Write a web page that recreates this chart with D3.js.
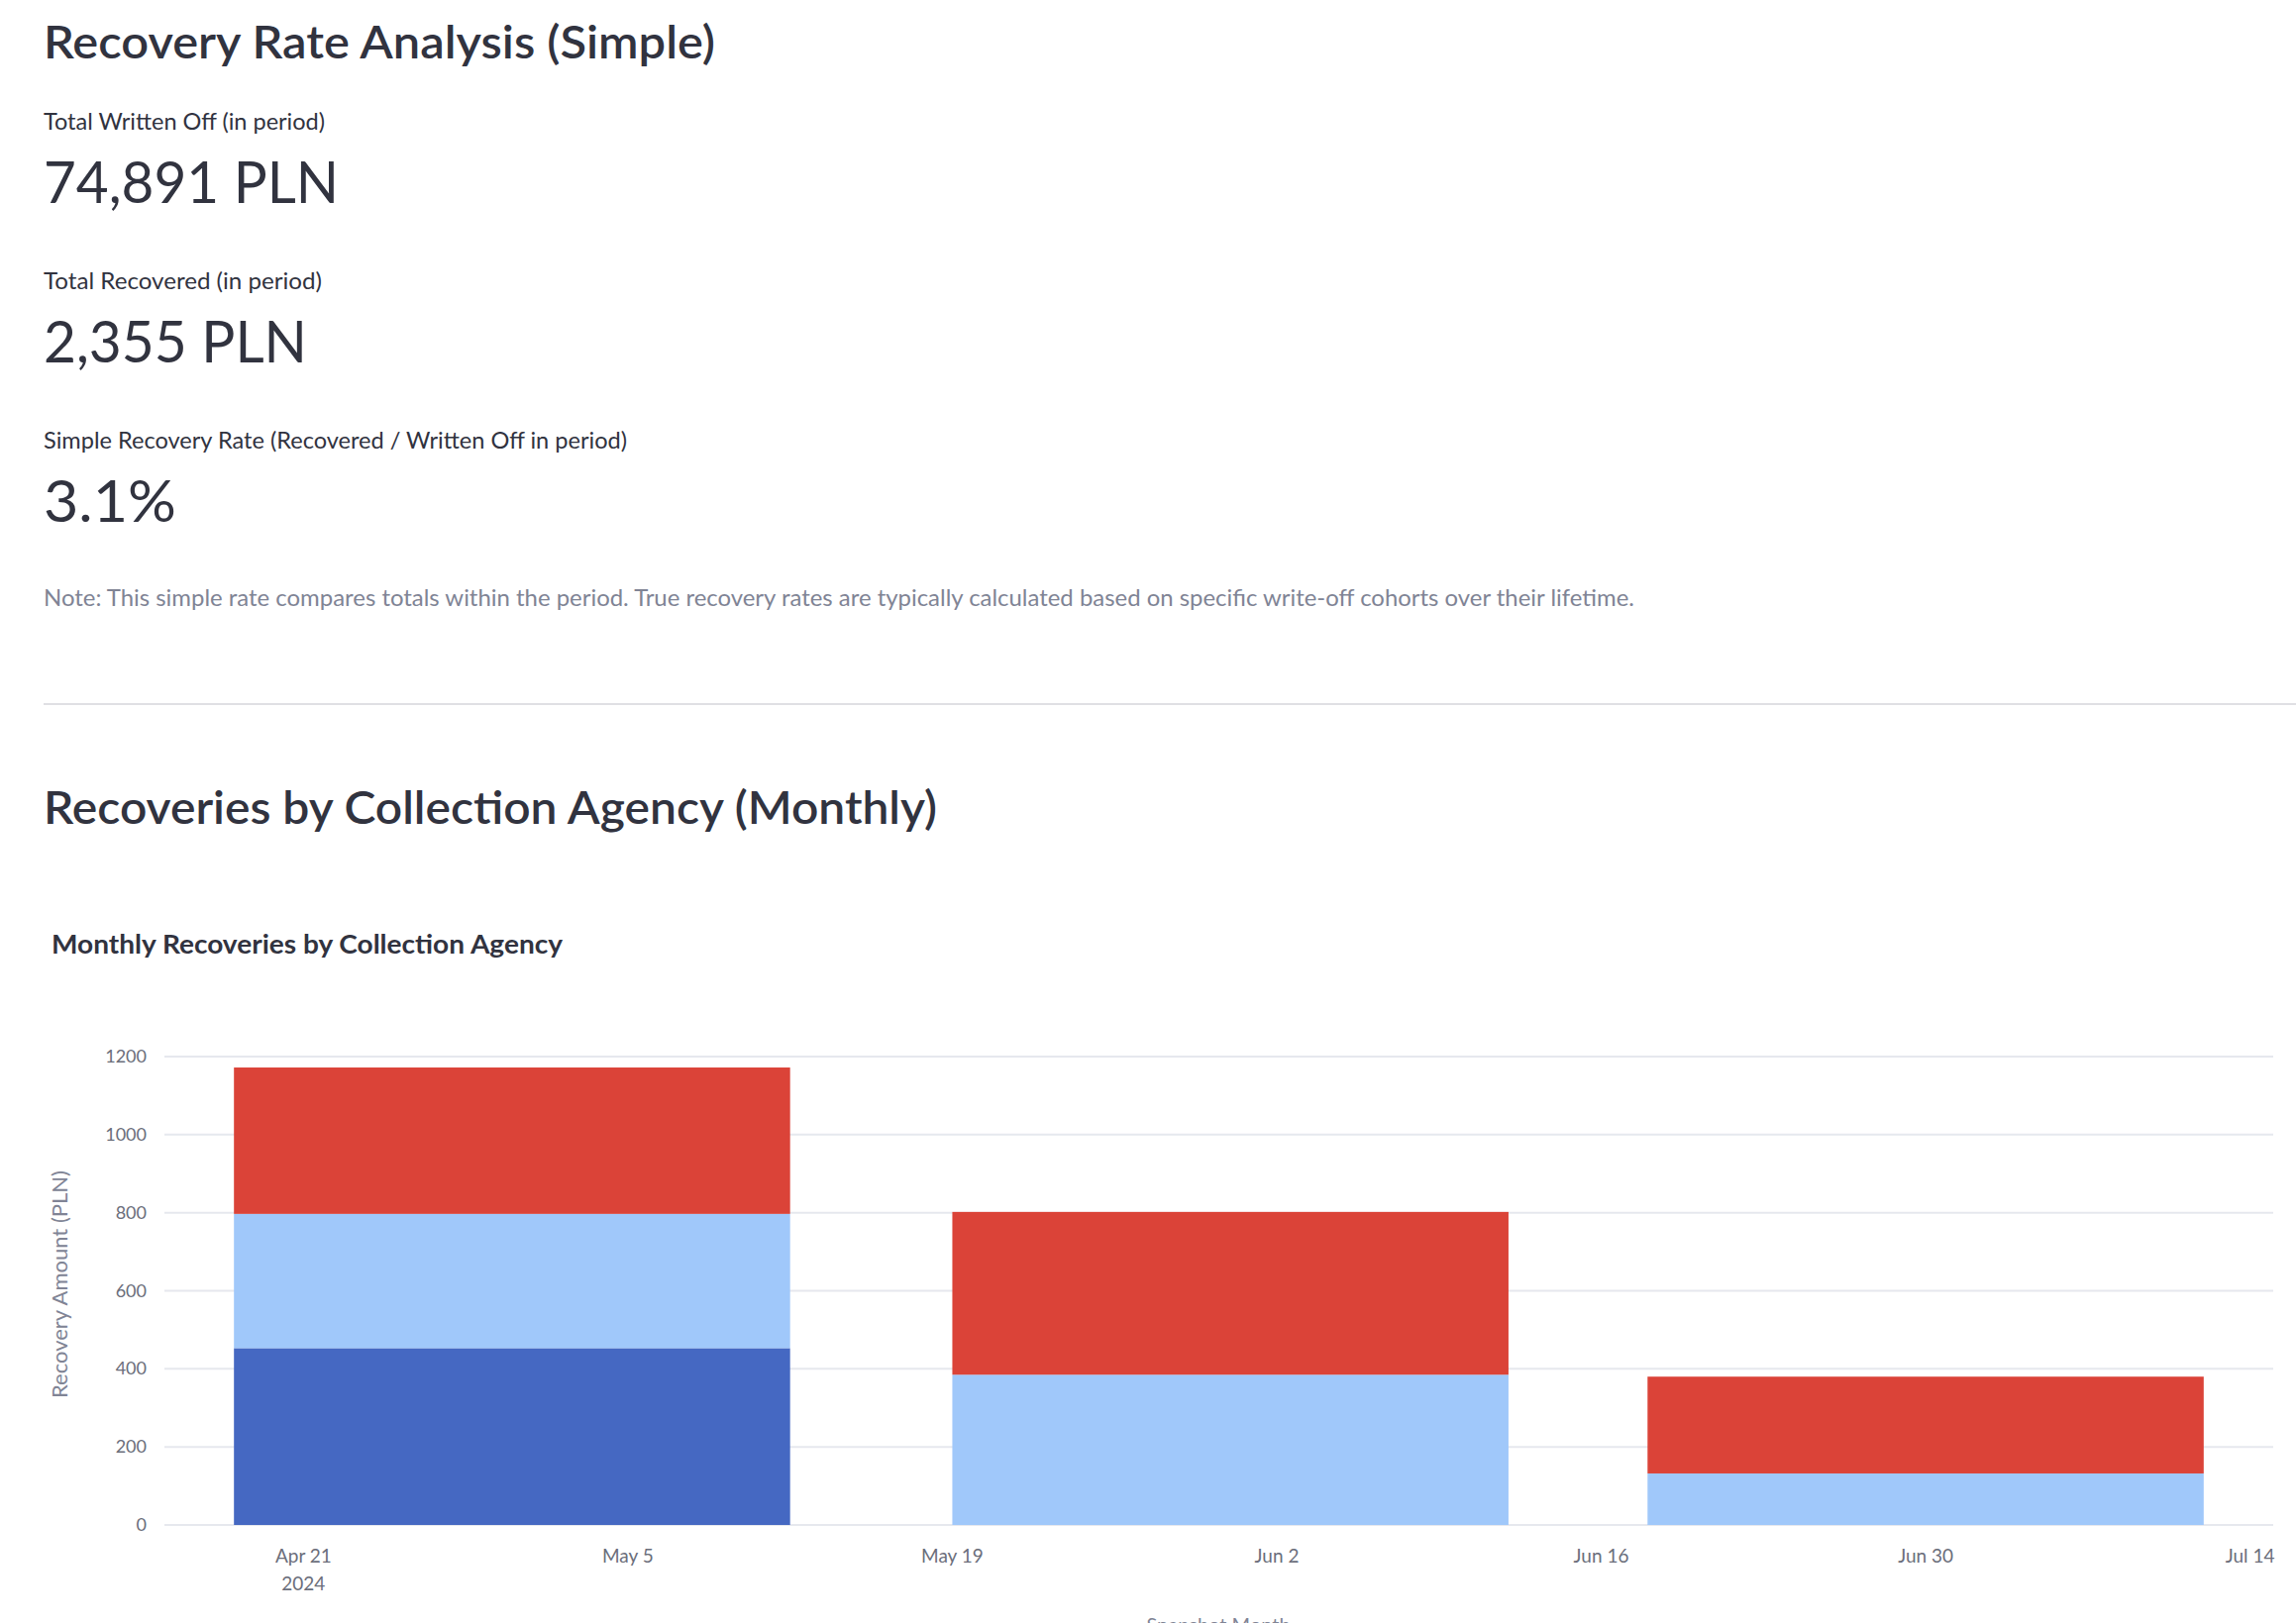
<!DOCTYPE html>
<html><head><meta charset="utf-8">
<script src="https://cdn.jsdelivr.net/npm/d3@7"></script>
<style>body{margin:0;background:#fff;font-family:Lato,"Noto Sans",sans-serif;}</style>
</head><body>
<svg id="c" width="2318" height="1639"></svg>
<script>
const months = ["2024-04-30","2024-05-31","2024-06-30"];
const agencies = ["Agency A","Agency B","Agency C"];
const agencyColors = ["#4568c2","#a0c8fa","#db4338"];
const valuesA = [453, 0, 0];
const valuesB = [344, 385, 132];
const valuesC = [375, 417, 248];
const yTicks = [0,200,400,600,800,1000,1200];
const xTickDates = ["2024-04-21","2024-05-05","2024-05-19","2024-06-02","2024-06-16","2024-06-30","2024-07-14"];
const xTickLabels = ["Apr 21","May 5","May 19","Jun 2","Jun 16","Jun 30","Jul 14"];

const svg = d3.select("#c");
const dark="#31333f";
function t(x,y,s,size,opts={}){const e=svg.append("text").attr("x",x).attr("y",y).text(s).attr("font-size",size).attr("fill",opts.fill||dark);if(opts.weight)e.attr("font-weight",opts.weight);if(opts.len)e.attr("textLength",opts.len).attr("lengthAdjust","spacingAndGlyphs");return e;}
t(44,59,"Recovery Rate Analysis (Simple)",47,{weight:600,len:678});
t(44,131,"Total Written Off (in period)",23,{len:284});
t(44,205,"74,891 PLN",58,{len:298});
t(44,292,"Total Recovered (in period)",23,{len:281});
t(44,366,"2,355 PLN",58,{len:266});
t(44,453,"Simple Recovery Rate (Recovered / Written Off in period)",23,{len:589});
t(44,527,"3.1%",58,{len:134});
t(44,612,"Note: This simple rate compares totals within the period. True recovery rates are typically calculated based on specific write-off cohorts over their lifetime.",23,{fill:"#808495",len:1606});
svg.append("line").attr("x1",44).attr("x2",2318).attr("y1",711).attr("y2",711).attr("stroke","#e0e0e4").attr("stroke-width",2);
t(44,832,"Recoveries by Collection Agency (Monthly)",47,{weight:600,len:902});
t(52,963,"Monthly Recoveries by Collection Agency",26,{weight:700,len:516});

const parse=d3.utcParse("%Y-%m-%d");
const x=d3.scaleUtc().domain([parse("2024-04-15"),parse("2024-07-15")]).range([166,2295]);
const y=d3.scaleLinear().domain([0,1200]).range([1540,1067]);
const g=svg.append("g");
yTicks.forEach(v=>{
  g.append("line").attr("x1",166).attr("x2",2295).attr("y1",y(v)).attr("y2",y(v)).attr("stroke","#e6e8ee").attr("stroke-width",2);
  g.append("text").attr("x",148).attr("y",y(v)+6).attr("text-anchor","end").attr("font-size",18).attr("fill","#6b6e7b").text(v);
});
const data=months.map((m,i)=>({date:parse(m),A:valuesA[i],B:valuesB[i],C:valuesC[i]}));
const stack=d3.stack().keys(["A","B","C"])(data);
const halfW=12*86400000;
stack.forEach((s,k)=>{
  g.selectAll(null).data(s).enter().append("rect")
   .attr("x",d=>x(new Date(+d.data.date-halfW)))
   .attr("width",d=>x(new Date(+d.data.date+halfW))-x(new Date(+d.data.date-halfW)))
   .attr("y",d=>y(d[1])).attr("height",d=>Math.max(0,y(d[0])-y(d[1])))
   .attr("fill",agencyColors[k]);
});
xTickDates.forEach((d,i)=>{
  const xx=x(parse(d));
  g.append("text").attr("x",xx).attr("y",1578).attr("text-anchor","middle").attr("font-size",19).attr("fill","#6b6e7b").text(xTickLabels[i]);
});
g.append("text").attr("x",x(parse(xTickDates[0]))).attr("y",1606).attr("text-anchor","middle").attr("font-size",19).attr("fill","#6b6e7b").text("2024");
g.append("text").attr("transform","translate(68,1297) rotate(-90)").attr("text-anchor","middle").attr("font-size",22).attr("fill","#808495").text("Recovery Amount (PLN)");
g.append("text").attr("x",1230).attr("y",1648).attr("text-anchor","middle").attr("font-size",20).attr("fill","#808495").text("Snapshot Month");
</script></body></html>
